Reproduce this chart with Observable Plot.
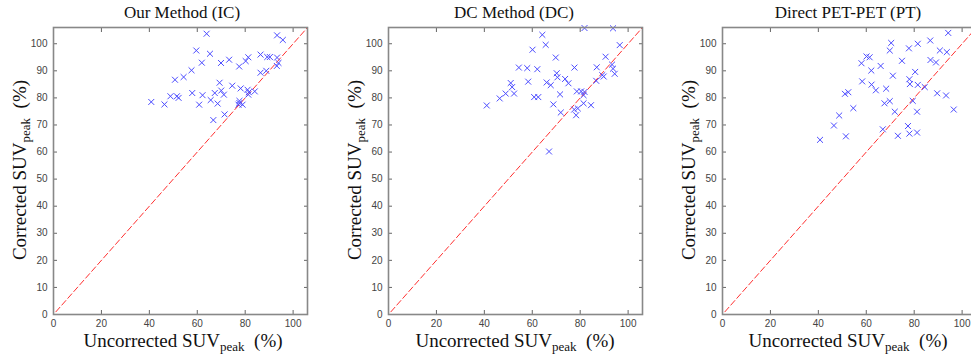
<!DOCTYPE html>
<html>
<head>
<meta charset="utf-8">
<script src="https://cdn.jsdelivr.net/npm/d3@7"></script>
<script src="https://cdn.jsdelivr.net/npm/@observablehq/plot@0.6"></script>
<style>
html, body { margin: 0; padding: 0; background: #fff; overflow: hidden; width: 971px; height: 360px; }
#root { position: relative; width: 971px; height: 360px; overflow: hidden; }
.panel { position: absolute; top: 0; }
.title { position: absolute; top: 3px; font-family: "Liberation Serif", serif; font-size: 17px; color: #111; white-space: nowrap; transform: translateX(-50%); }
.xlab { position: absolute; top: 330px; font-family: "Liberation Serif", serif; font-size: 19px; color: #111; white-space: nowrap; transform: translateX(-50%); }
.ylab { position: absolute; font-family: "Liberation Serif", serif; font-size: 19px; color: #111; white-space: nowrap; transform: translate(-50%, -50%) rotate(-90deg); }
sub { font-size: 13px; vertical-align: -4px; }
</style>
</head>
<body>
<div id="root"></div>
<script>
// ---- data ----
const titles = ["Our Method (IC)", "DC Method (DC)", "Direct PET-PET (PT)"];
const xLabelText = "Uncorrected SUV";
const yLabelText = "Corrected SUV";
const subText = "peak";
const unitText = "(%)";
const xTicks = [0, 20, 40, 60, 80, 100];
const yTicks = [0, 10, 20, 30, 40, 50, 60, 70, 80, 90, 100];
const diag = [1, 106];

const icX = [40.8, 46.3, 48.8, 50.7, 51.5, 52.2, 54.3, 57.6, 57.9, 59.6, 60.8, 62.2, 61.9, 63.9, 65.3, 65.6, 66.7, 67.3, 68.5, 69.3, 69.9, 70.0, 71.1, 71.4, 73.3, 74.6, 77.5, 77.2, 77.6, 77.6, 78.9, 78.1, 80.2, 81.3, 81.0, 81.5, 81.3, 84.0, 86.4, 86.4, 88.8, 89.2, 90.3, 93.3, 93.3, 93.2, 93.9, 95.7];
const icY = [78.5, 77.6, 80.6, 86.7, 80.6, 80.0, 87.7, 90.2, 81.8, 97.5, 77.5, 81.0, 93.0, 103.7, 96.3, 79.2, 71.8, 81.8, 77.9, 85.6, 92.9, 82.7, 81.2, 73.9, 94.1, 84.5, 91.6, 77.5, 78.1, 78.9, 77.5, 83.5, 93.6, 95.0, 83.0, 82.1, 81.2, 82.4, 96.0, 89.3, 90.0, 95.1, 95.1, 103.1, 94.9, 91.8, 92.9, 101.4];

const dcX = [41.0, 46.4, 48.9, 51.0, 51.6, 52.4, 54.4, 57.9, 58.3, 60.1, 60.8, 62.5, 62.1, 64.2, 65.6, 66.0, 67.7, 67.0, 68.8, 69.8, 70.2, 70.5, 71.6, 71.9, 73.7, 75.1, 77.6, 77.5, 78.3, 79.0, 78.6, 80.4, 81.8, 81.4, 81.4, 81.8, 84.5, 86.7, 86.9, 89.2, 89.8, 90.6, 93.3, 93.7, 94.4, 93.7, 96.5];
const dcY = [77.2, 79.8, 81.6, 85.5, 84.0, 81.6, 91.2, 91.0, 86.0, 97.8, 80.3, 80.3, 90.6, 103.3, 99.6, 85.7, 84.7, 60.2, 77.6, 94.9, 89.1, 87.6, 81.3, 74.6, 87.0, 85.4, 91.2, 75.7, 73.6, 76.1, 82.4, 82.4, 82.2, 81.0, 78.0, 105.8, 77.3, 86.3, 91.3, 88.4, 87.9, 95.2, 92.3, 90.8, 88.9, 105.7, 99.5];

const ptX = [40.7, 46.5, 48.7, 51.1, 52.5, 51.5, 54.6, 58.0, 58.3, 60.1, 61.4, 62.1, 62.2, 64.0, 66.0, 66.9, 67.6, 68.3, 69.8, 69.8, 70.4, 71.1, 71.9, 73.2, 74.9, 77.4, 77.8, 78.0, 78.2, 78.0, 79.4, 80.4, 81.5, 81.5, 81.2, 81.2, 84.4, 86.7, 86.8, 89.1, 89.6, 90.7, 93.3, 93.6, 94.2, 96.5];
const ptY = [64.5, 69.8, 73.5, 81.5, 82.1, 65.8, 76.2, 92.8, 86.1, 95.3, 95.0, 90.1, 84.9, 82.8, 91.8, 68.4, 78.0, 83.4, 78.8, 97.5, 100.3, 88.2, 74.9, 66.0, 93.7, 69.6, 98.3, 86.9, 85.1, 66.8, 78.9, 89.6, 100.0, 84.8, 74.9, 67.2, 84.0, 101.2, 94.0, 93.1, 81.7, 97.5, 80.9, 96.9, 104.0, 75.7];

// ---- layout ----
const layout = [
  {left: 0,   width: 320, ml: 53, mr: 13, tx: 182, lx: 183, yx: 21},
  {left: 330, width: 330, ml: 58, mr: 18, tx: 514, lx: 515, yx: 356},
  {left: 660, width: 330, ml: 62, mr: 14, tx: 848, lx: 848, yx: 690}
];
const series = [[icX, icY], [dcX, dcY], [ptX, ptY]];

const root = document.getElementById("root");
const blank = () => "";

series.forEach(([xs, ys], i) => {
  const L = layout[i];
  const pts = xs.map((x, j) => ({x, y: ys[j]}));
  const chart = Plot.plot({
    width: L.width,
    height: 330,
    marginLeft: L.ml,
    marginRight: L.mr,
    marginTop: 27,
    marginBottom: 16,
    x: {domain: [0, 106]},
    y: {domain: [0, 106]},
    style: {fontFamily: "'Liberation Sans', Arial, sans-serif", fontSize: "10px", color: "#444", background: "transparent", overflow: "visible"},
    marks: [
      Plot.line(diag, {x: d => d, y: d => d, stroke: "#ff3030", strokeWidth: 1, strokeDasharray: "6,3"}),
      Plot.dot(pts, {x: "x", y: "y", symbol: "times", r: 2.8, stroke: "#4b4bff", strokeWidth: 1}),
      Plot.axisX(xTicks, {anchor: "bottom", tickSize: -4, tickPadding: 9, label: null, stroke: "#666"}),
      Plot.axisX(xTicks, {anchor: "top", tickSize: -4, tickFormat: blank, label: null, stroke: "#666"}),
      Plot.axisY(yTicks, {anchor: "left", tickSize: -4, tickPadding: 10, label: null, stroke: "#666"}),
      Plot.axisY(yTicks, {anchor: "right", tickSize: -4, tickFormat: blank, label: null, stroke: "#666"}),
      Plot.frame({stroke: "#888", strokeWidth: 1.6})
    ]
  });
  chart.classList.add("panel");
  chart.style.left = L.left + "px";
  root.appendChild(chart);

  const t = document.createElement("div");
  t.className = "title";
  t.style.left = L.tx + "px";
  t.textContent = titles[i];
  root.appendChild(t);

  const xl = document.createElement("div");
  xl.className = "xlab";
  xl.style.left = L.lx + "px";
  xl.innerHTML = `${xLabelText}<sub>${subText}</sub>&nbsp;&nbsp;${unitText}`;
  root.appendChild(xl);

  const yl = document.createElement("div");
  yl.className = "ylab";
  yl.style.left = L.yx + "px";
  yl.style.top = "170px";
  yl.innerHTML = `${yLabelText}<sub>${subText}</sub>&nbsp;&nbsp;${unitText}`;
  root.appendChild(yl);
});
</script>
</body>
</html>
